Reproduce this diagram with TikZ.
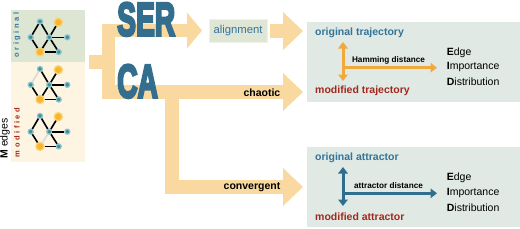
\documentclass[tikz,border=0pt]{standalone}
\usepackage{fontspec}
\setmainfont{Liberation Sans}
\newfontfamily\serfont[FakeBold=6]{Liberation Sans Bold}
\usetikzlibrary{arrows.meta}
\definecolor{arr}{HTML}{F9D9A0}
\definecolor{cblue}{HTML}{35749A}
\definecolor{cred}{HTML}{A3281F}
\definecolor{serblue}{HTML}{336E8E}
\definecolor{origbg}{HTML}{DDE5D3}
\definecolor{modbg}{HTML}{FDF5E2}
\definecolor{boxbg}{HTML}{E0E9E3}
\definecolor{alignbg}{HTML}{DFE6D5}
\definecolor{alignbd}{HTML}{EEF2EA}
\definecolor{nteal}{HTML}{3B8EA5}
\definecolor{nhalo}{HTML}{8FC3C6}
\definecolor{norg}{HTML}{F8B52E}
\definecolor{nohalo}{HTML}{FCD06A}
\definecolor{gedge}{HTML}{DADADA}
\definecolor{harr}{HTML}{F2A93B}
\definecolor{barr}{HTML}{2F6E8F}
\newcommand\mylsp{\kern2.6pt}
\tikzset{
  sn/.style={circle, fill=nteal, draw=nhalo, line width=1.3pt, inner sep=0pt, minimum size=5pt},
  on/.style={circle, fill=norg, draw=nohalo, line width=1.3pt, inner sep=0pt, minimum size=8pt},
  ge/.style={line width=1.6pt, black},
  gg/.style={line width=1.6pt, gedge},
  bigtxt/.style={inner sep=0pt, anchor=base west, text=serblue, font=\serfont\fontsize{47}{47}\selectfont},
  lbl/.style={inner sep=0pt, font=\bfseries\fontsize{10.5}{12}\selectfont},
  eid/.style={inner sep=0pt, anchor=west, font=\fontsize{10.5}{12}\selectfont},
  small/.style={inner sep=0pt, font=\bfseries\fontsize{8.2}{10}\selectfont},
  mytip/.tip={Triangle[width=9.5pt,length=6.5pt]},
}
\newcommand\graphnodes{%
  \node[sn] (top) at (-9.3,-15.8) {};
  \node[on] (otr) at (9,-15) {};
  \node[sn] (lft) at (-18.6,0) {};
  \node[sn] (ctr) at (0,0) {};
  \node[sn] (rgt) at (18,0) {};
  \node[on] (obl) at (-9.3,14.7) {};
  \node[sn] (bbr) at (9.4,14.7) {};
}
\begin{document}
\begin{tikzpicture}[x=1pt,y=-1pt]
\useasboundingbox (0,0) rectangle (520,228);
% left panel
\fill[origbg] (11,10) rectangle (85,62);
\fill[modbg] (11,62) rectangle (85,162);
\node[inner sep=0pt, rotate=90, text=cblue, font=\bfseries\fontsize{7.5}{9}\selectfont] (orl) at (17,35) {o\mylsp r\mylsp i\mylsp g\mylsp i\mylsp n\mylsp a\mylsp l};
\node[inner sep=0pt, rotate=90, text=cred, font=\bfseries\fontsize{7.5}{9}\selectfont] (mol) at (17,132.5) {m\mylsp o\mylsp d\mylsp i\mylsp f\mylsp i\mylsp e\mylsp d};
\node[inner sep=0pt, rotate=90, font=\fontsize{10.5}{12}\selectfont] (medges) at (5,138.5) {\textbf{M} edges};
% graph 1
\begin{scope}[shift={(49.3,37.3)}, name prefix=g1-]
\graphnodes
\draw[ge] (top) -- (lft); \draw[ge] (top) -- (ctr); \draw[ge] (lft) -- (obl);
\draw[ge] (ctr) -- (otr); \draw[ge] (ctr) -- (rgt); \draw[ge] (ctr) -- (obl);
\draw[ge] (ctr) -- (bbr); \draw[ge] (obl) -- (bbr);
\end{scope}
% graph 2
\begin{scope}[shift={(49.3,84.8)}, name prefix=g2-]
\graphnodes
\draw[gg] (top) -- (lft); \draw[ge] (top) -- (ctr); \draw[ge] (lft) -- (obl);
\draw[ge] (ctr) -- (otr); \draw[ge] (ctr) -- (rgt); \draw[ge] (ctr) -- (obl);
\draw[ge] (ctr) -- (bbr); \draw[ge] (obl) -- (bbr);
\end{scope}
% graph 3
\begin{scope}[shift={(49.3,131.7)}, name prefix=g3-]
\graphnodes
\draw[ge] (top) -- (lft); \draw[ge] (top) -- (ctr); \draw[ge] (lft) -- (obl);
\draw[ge] (ctr) -- (otr); \draw[ge] (ctr) -- (rgt); \draw[gg] (ctr) -- (obl);
\draw[ge] (ctr) -- (bbr); \draw[ge] (obl) -- (bbr);
\end{scope}
% big orange arrows
\fill[arr] (89,55) rectangle (115,69);
\fill[arr] (102,24) rectangle (115,99);
\fill[arr] (102,24) rectangle (187.5,37);
\fill[arr] (187,12.5) -- (202,30.5) -- (187,48.5) -- cycle;
\fill[arr] (102,85) rectangle (283.5,99);
\fill[arr] (283,73) -- (303,92) -- (283,111) -- cycle;
\fill[arr] (165,99) rectangle (179,194);
\fill[arr] (165,180) rectangle (283.5,194);
\fill[arr] (283,168) -- (303,187) -- (283,206) -- cycle;
\fill[arr] (270,23.5) rectangle (283.5,38);
\fill[arr] (283,12) -- (303,31) -- (283,50) -- cycle;
% SER / CA
\node[bigtxt] (ser) at (117,35.5) {\scalebox{0.6}[1]{SER}};
\node[bigtxt] (ca) at (117,97.5) {\scalebox{0.6}[1]{CA}};
\node[draw=alignbd, fill=alignbg, line width=0.8pt, minimum width=58pt, minimum height=23pt, inner sep=0pt, text=cblue, font=\fontsize{11.3}{13}\selectfont] (align) at (238,30.5) {alignment};
\node[lbl, anchor=east] (chaotic) at (280.5,92.5) {chaotic};
\node[lbl, anchor=east] (conv) at (280.5,187.5) {convergent};
% right boxes
\node[fill=boxbg, minimum width=213pt, minimum height=80pt, inner sep=0pt, anchor=north west] (trajbox) at (307,22) {};
\node[fill=boxbg, minimum width=213pt, minimum height=80pt, inner sep=0pt, anchor=north west] (attbox) at (307,147) {};
% trajectory box
\node[lbl, anchor=west, text=cblue] (otraj) at (315,33) {original trajectory};
\node[lbl, anchor=west, text=cred] (mtraj) at (315,91) {modified trajectory};
\coordinate (ht) at (343,42);
\coordinate (hb) at (343,81);
\coordinate (hm) at (343,67.7);
\coordinate (he) at (437,67.7);
\draw[harr, line width=3pt, {mytip}-{mytip}] (ht) -- (hb);
\draw[harr, line width=3pt, -{mytip}] (hm) -- (he);
\node[small] (hamming) at (388.5,60.7) {Hamming distance};
\node[eid] (e1) at (446.7,52.3) {\textbf{E}dge};
\node[eid] (e2) at (446.7,67) {\textbf{I}mportance};
\node[eid] (e3) at (446.7,81.7) {\textbf{D}istribution};
% attractor box
\node[lbl, anchor=west, text=cblue] (oatt) at (315,158) {original attractor};
\node[lbl, anchor=west, text=cred] (matt) at (315,217) {modified attractor};
\coordinate (at) at (343,167);
\coordinate (ab) at (343,206);
\coordinate (am) at (343,193.3);
\coordinate (ae) at (437,193.3);
\draw[barr, line width=3pt, {mytip}-{mytip}] (at) -- (ab);
\draw[barr, line width=3pt, -{mytip}] (am) -- (ae);
\node[small] (attdist) at (388.5,186) {attractor distance};
\node[eid] (f1) at (446.7,177.7) {\textbf{E}dge};
\node[eid] (f2) at (446.7,192.7) {\textbf{I}mportance};
\node[eid] (f3) at (446.7,207.7) {\textbf{D}istribution};
\end{tikzpicture}
\end{document}
